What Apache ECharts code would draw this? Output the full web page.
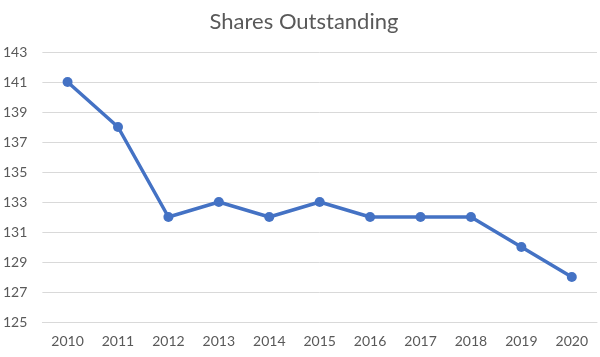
<!DOCTYPE html>
<html>
<head>
<meta charset="utf-8">
<script src="https://cdn.jsdelivr.net/npm/echarts@6/dist/echarts.min.js"></script>
<style>html,body{margin:0;padding:0;background:#fff}#c{width:600px;height:357px}</style>
</head>
<body>
<div id="c"></div>
<script>
var years = ['2010','2011','2012','2013','2014','2015','2016','2017','2018','2019','2020'];
var shares = [141, 138, 132, 133, 132, 133, 132, 132, 132, 130, 128];
var chartTitle = 'Shares Outstanding';

var chart = echarts.init(document.getElementById('c'), null, {renderer: 'canvas'});
chart.setOption({
  animation: false,
  backgroundColor: '#ffffff',
  title: {
    text: chartTitle,
    left: 299, top: 6, textAlign: 'center',
    textStyle: {fontFamily: 'Lato, "Open Sans", sans-serif', fontSize: 22, fontWeight: 'normal', color: '#595959'}
  },
  grid: {left: 41, right: 3, top: 52, bottom: 35, containLabel: false},
  xAxis: {
    type: 'category', data: years, boundaryGap: true,
    axisLine: {show: true, lineStyle: {color: '#d9d9d9', width: 1}},
    axisTick: {show: false},
    axisLabel: {color: '#595959', fontSize: 14, margin: 12, fontFamily: 'Lato, "Open Sans", sans-serif'}
  },
  yAxis: {
    type: 'value', min: 125, max: 143, interval: 2,
    axisLine: {show: false}, axisTick: {show: false},
    splitLine: {lineStyle: {color: '#d9d9d9', width: 1}},
    axisLabel: {color: '#595959', fontSize: 14, margin: 15, fontFamily: 'Lato, "Open Sans", sans-serif'}
  },
  series: [{
    type: 'line', data: shares,
    symbol: 'circle', symbolSize: 10,
    lineStyle: {color: '#4472C4', width: 3.5},
    itemStyle: {color: '#4472C4'}
  }]
});
</script>
</body>
</html>
